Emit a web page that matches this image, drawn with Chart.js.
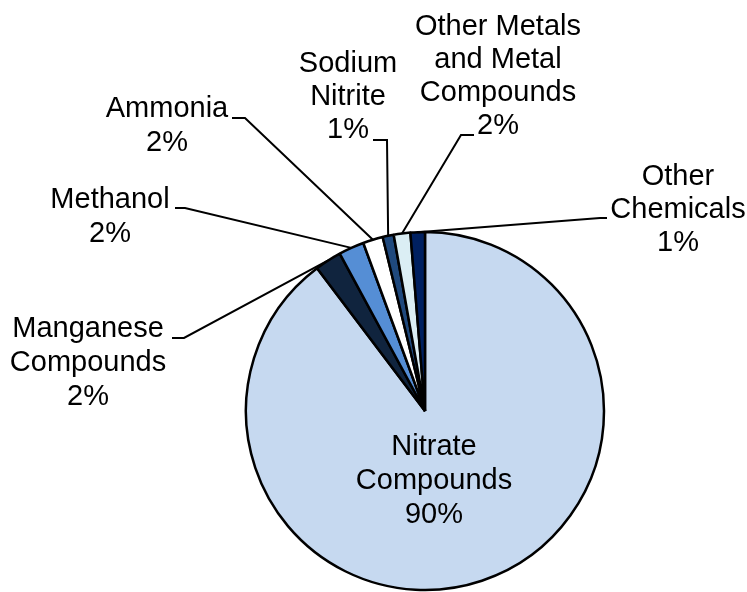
<!DOCTYPE html>
<html><head><meta charset="utf-8">
<script src="https://cdn.jsdelivr.net/npm/chart.js@4/dist/chart.umd.min.js"></script>
<style>html,body{margin:0;padding:0;background:#fff}canvas{display:block}</style>
</head><body>
<canvas id="c" width="747" height="592"></canvas>
<script>
// ---- data ----
const categories = [
  ["Nitrate", "Compounds"],
  ["Manganese", "Compounds"],
  ["Methanol"],
  ["Ammonia"],
  ["Sodium", "Nitrite"],
  ["Other Metals", "and Metal", "Compounds"],
  ["Other", "Chemicals"]
];
const values = [89.7, 2.4, 2.3, 1.8, 1.0, 1.5, 1.3];
const percentLabels = ["90%", "2%", "2%", "2%", "1%", "2%", "1%"];

// ---- styles ----
const sliceColors = ["#C6D9F0", "#10243E", "#558ED5", "#FFFFFF", "#1F497D", "#DBEEF4", "#002060"];

// ---- label layout (text centre x, first baseline y, line height, leader elbow) ----
const labelLayout = [
  {cx: 434, y: 455, lh: 34, leader: null},
  {cx: 88,  y: 337, lh: 34, leader: [[172, 338], [184, 338]]},
  {cx: 110, y: 208, lh: 34, leader: [[175, 208], [185, 208]]},
  {cx: 167, y: 117, lh: 34, leader: [[232, 118], [245, 118]]},
  {cx: 348, y: 72,  lh: 33, leader: [[373, 140], [387, 140]]},
  {cx: 498, y: 35,  lh: 33, leader: [[474, 135], [461, 135]]},
  {cx: 678, y: 185, lh: 33, leader: [[607, 218], [600, 218]]}
];

const labelPlugin = {
  id: 'pieLabels',
  afterDatasetsDraw(chart) {
    const ctx = chart.ctx;
    const arcs = chart.getDatasetMeta(0).data;
    ctx.save();
    ctx.font = '29px "Liberation Sans", Arial, sans-serif';
    ctx.fillStyle = '#000';
    ctx.textAlign = 'center';
    ctx.textBaseline = 'alphabetic';
    labelLayout.forEach((L, i) => {
      const lines = categories[i].concat([percentLabels[i]]);
      lines.forEach((t, k) => ctx.fillText(t, L.cx, L.y + k * L.lh));
      if (L.leader) {
        const p = arcs[i].getProps(['x', 'y', 'startAngle', 'endAngle', 'outerRadius'], true);
        const mid = (p.startAngle + p.endAngle) / 2;
        const ex = p.x + p.outerRadius * Math.cos(mid);
        const ey = p.y + p.outerRadius * Math.sin(mid);
        ctx.beginPath();
        ctx.moveTo(L.leader[0][0], L.leader[0][1]);
        ctx.lineTo(L.leader[1][0], L.leader[1][1]);
        ctx.lineTo(ex, ey);
        ctx.lineWidth = 2;
        ctx.strokeStyle = '#000';
        ctx.stroke();
      }
    });
    ctx.restore();
  }
};

new Chart(document.getElementById('c'), {
  type: 'pie',
  data: {
    labels: categories.map(c => c.join(' ')),
    datasets: [{
      data: values,
      backgroundColor: sliceColors,
      borderColor: '#000',
      borderWidth: 2.5,
      radius: 179
    }]
  },
  options: {
    responsive: false,
    animation: false,
    layout: {padding: {left: 245, right: 142, top: 231, bottom: 1}},
    plugins: {legend: {display: false}, tooltip: {enabled: false}}
  },
  plugins: [labelPlugin]
});
</script>
</body></html>
